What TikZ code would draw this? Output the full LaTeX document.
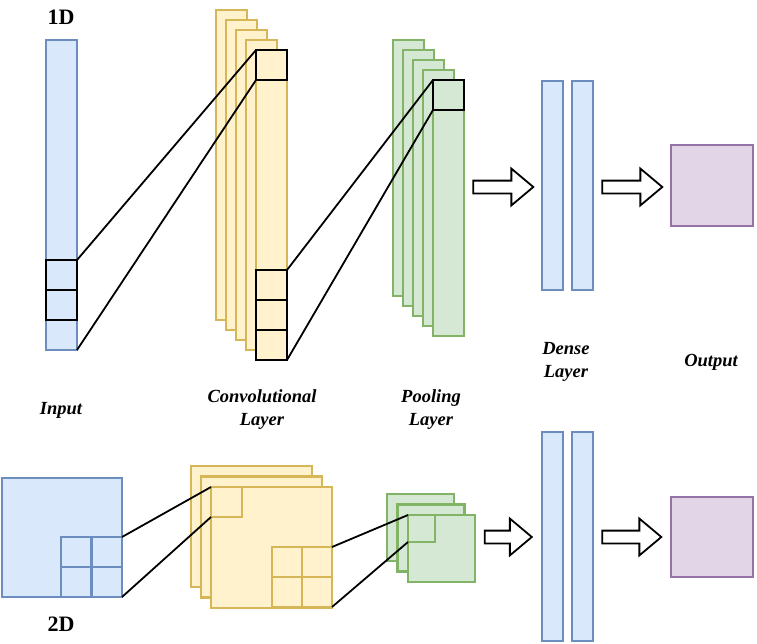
\documentclass[tikz,border=0pt]{standalone}
\usepackage{fontspec}
\setmainfont{Liberation Serif}
\usetikzlibrary{shapes.arrows,positioning}
\definecolor{bluefill}{HTML}{DAE8FC}
\definecolor{blueline}{HTML}{6C8EBF}
\definecolor{yellowfill}{HTML}{FFF2CC}
\definecolor{yellowline}{HTML}{D6B656}
\definecolor{greenfill}{HTML}{D5E8D4}
\definecolor{greenline}{HTML}{82B366}
\definecolor{purplefill}{HTML}{E1D5E7}
\definecolor{purpleline}{HTML}{9673A6}
\tikzset{
  cell/.style={rectangle,inner sep=0pt,outer sep=0pt,anchor=north west,line width=2.5pt},
  inbox/.style={cell,draw=blueline,fill=bluefill},
  convbox/.style={cell,draw=yellowline,fill=yellowfill},
  poolbox/.style={cell,draw=greenline,fill=greenfill},
  outbox/.style={cell,draw=purpleline,fill=purplefill},
  winbox/.style={cell,draw=black,line width=1.8pt},
  fatarrow/.style={single arrow,draw=black,fill=white,line width=1.8pt,inner xsep=0pt,inner ysep=5.5pt,
    single arrow head extend=12pt,single arrow tip angle=80,outer sep=0pt},
  lbl/.style={font=\fontsize{18.5}{23}\selectfont\bfseries\itshape,align=center},
  dimlbl/.style={font=\fontsize{22}{26}\selectfont\bfseries},
  wire/.style={line width=1.8pt}
}
\begin{document}
\begin{tikzpicture}[x=1pt,y=-1pt]
\useasboundingbox (0,0) rectangle (757,643);
%1D input
\node[inbox,minimum width=31pt,minimum height=310pt] (inbar) at (46,40) {};
\node[winbox,minimum width=31pt,minimum height=30pt] (inwinA) at (46,260) {};
\node[winbox,minimum width=31pt,minimum height=30pt] (inwinB) at (46,290) {};
%1D convolution
\foreach \i in {0,...,4}
  \node[convbox,minimum width=31pt,minimum height=310pt] (conv\i) at ({216+10*\i},{10+10*\i}) {};
\node[winbox,minimum width=31pt,minimum height=30pt] (convwin) at (conv4.north west) {};
\foreach \j in {0,1,2}
  \node[winbox,minimum width=31pt,minimum height=30pt] (convcell\j) at (256,{270+30*\j}) {};
%1D pooling
\foreach \i in {0,...,4}
  \node[poolbox,minimum width=31pt,minimum height=256pt] (pool\i) at ({393+10*\i},{40+10*\i}) {};
\node[winbox,minimum width=31pt,minimum height=30pt] (poolwin) at (pool4.north west) {};
%wires
\draw[wire] (inwinA.north east) -- (convwin.north west);
\draw[wire] (inbar.south east) -- (convwin.south west);
\draw[wire] (convcell0.north east) -- (poolwin.north west);
\draw[wire] (convcell2.south east) -- (poolwin.south west);
%dense and output
\node[fatarrow,minimum height=60pt] (arrA) at (499.5,187) {};
\node[inbox,minimum width=21pt,minimum height=209pt] (denseA) at (542,81) {};
\node[inbox,minimum width=21pt,minimum height=209pt] (denseB) at (572,81) {};
\node[fatarrow,minimum height=60pt] (arrB) at (628.5,187) {};
\node[outbox,minimum width=82pt,minimum height=81pt] (outA) at (671,145) {};
%labels
\node[dimlbl] (oneD) at (61,17) {1D};
\node[lbl] (inlbl) at (61,410) {Input};
\node[lbl] (convlbl) at (262,410) {Convolutional\\Layer};
\node[lbl] (poollbl) at (431,410) {Pooling\\Layer};
\node[lbl] (denselbl) at (566,362) {Dense\\Layer};
\node[lbl] (outlbl) at (711,362) {Output};
\node[dimlbl] (twoD) at (61,624) {2D};
%2D input
\node[inbox,minimum width=120pt,minimum height=119pt] (insq) at (2,478) {};
\foreach \r in {0,1}
  \foreach \c in {0,1}
    \node[inbox,minimum width=30.5pt,minimum height=30pt] (ingrid\r\c) at ({61+30.5*\c},{537+30*\r}) {};
%2D convolution
\foreach \i in {0,1,2}
  \node[convbox,minimum width=121pt,minimum height=121pt] (csq\i) at ({191+10*\i},{466+10.5*\i}) {};
\node[convbox,minimum width=31pt,minimum height=30pt] (cwin) at (csq2.north west) {};
\foreach \r in {0,1}
  \foreach \c in {0,1}
    \node[convbox,minimum width=30pt,minimum height=30pt] (cgrid\r\c) at ({272+30*\c},{547+30*\r}) {};
%2D pooling
\foreach \i in {0,1,2}
  \node[poolbox,minimum width=67pt,minimum height=67pt] (psq\i) at ({387+10.5*\i},{494+10.5*\i}) {};
\node[poolbox,minimum width=27pt,minimum height=27pt] (pwin) at (psq2.north west) {};
%wires
\draw[wire] (ingrid01.north east) -- (cwin.north west);
\draw[wire] (ingrid11.south east) -- (cwin.south west);
\draw[wire] (cgrid01.north east) -- (pwin.north west);
\draw[wire] (cgrid11.south east) -- (pwin.south west);
%dense and output
\node[fatarrow,minimum height=47pt] (arrC) at (504.5,537) {};
\node[inbox,minimum width=21pt,minimum height=209pt] (denseC) at (542,432) {};
\node[inbox,minimum width=21pt,minimum height=209pt] (denseD) at (572,432) {};
\node[fatarrow,minimum height=59pt] (arrD) at (628,537) {};
\node[outbox,minimum width=82pt,minimum height=80pt] (outB) at (671,497) {};
\end{tikzpicture}
\end{document}
